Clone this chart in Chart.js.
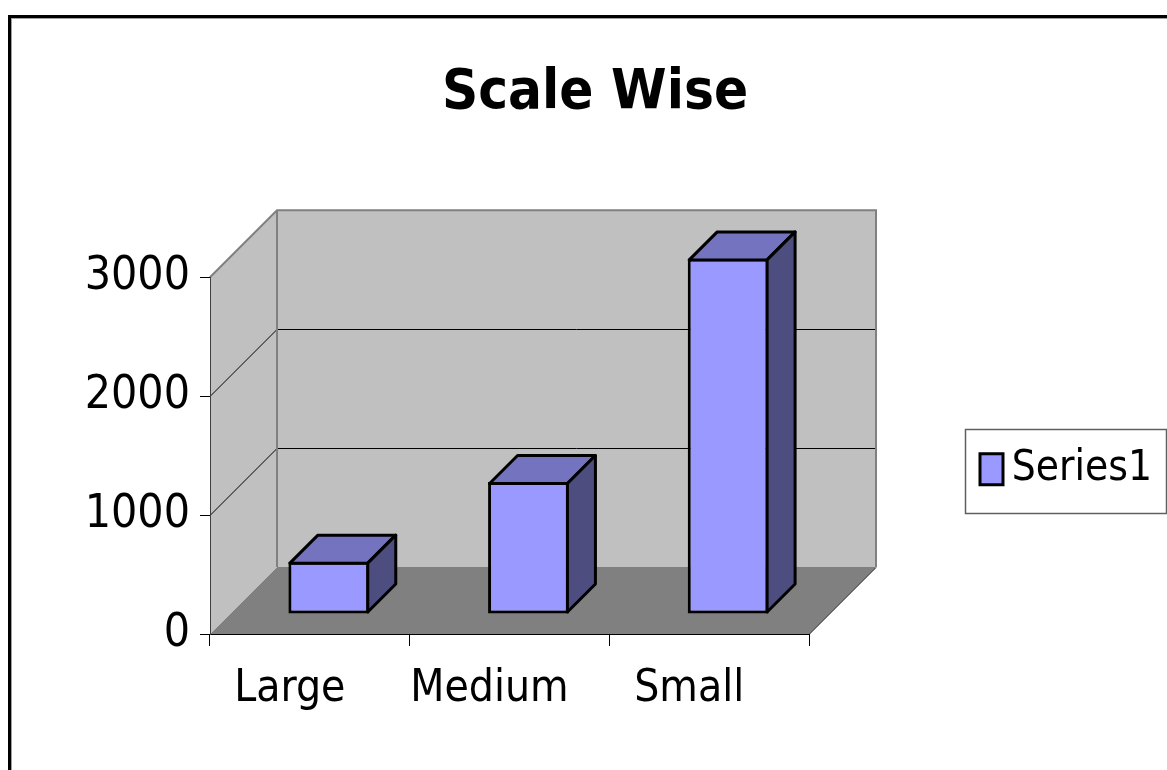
<!DOCTYPE html>
<html>
<head>
<meta charset="utf-8">
<title>Scale Wise</title>
<script src="https://cdn.jsdelivr.net/npm/chart.js@4.4.0/dist/chart.umd.min.js"></script>
<style>
  html, body { margin: 0; padding: 0; background: #fff; }
  #wrap { width: 1167px; height: 770px; }
</style>
</head>
<body>
<div id="wrap"><canvas id="myChart" width="1167" height="770"></canvas></div>
<script>
// chart data
const categories = ['Large', 'Medium', 'Small'];
const seriesValues = [440, 1110, 2990];
const seriesName = 'Series1';
const yTicks = [0, 1000, 2000, 3000];

const FONT = "'DejaVu Sans Condensed', 'Liberation Sans Narrow', 'Arial Narrow', sans-serif";
const WALL_DEPTH = 67;              // how far the back wall sits behind the axis plane
const BAR_SHIFT = { x: 19, y: -20 }; // bars stand in the middle of the floor
const BAR_DEPTH = 28;

function poly(ctx, pts) {
  ctx.beginPath();
  pts.forEach(([x, y], i) => (i ? ctx.lineTo(x, y) : ctx.moveTo(x, y)));
  ctx.closePath();
}

// draws the walls/floor and the top + side faces of the bars
const threeD = {
  id: 'threeD',
  beforeDraw(chart) {
    const { ctx, chartArea: a, scales: { y } } = chart;
    const D = WALL_DEPTH;
    const top = y.getPixelForValue(yTicks[yTicks.length - 1]);
    const bottom = y.getPixelForValue(0);
    ctx.save();

    // outer frame
    ctx.strokeStyle = '#000';
    ctx.lineWidth = 3;
    ctx.strokeRect(9.5, 16.5, 1400, 1000);
    ctx.strokeStyle = '#a0a0a0';
    ctx.lineWidth = 1;
    ctx.strokeRect(11.5, 18.5, 1400, 1000);

    // floor
    ctx.fillStyle = '#808080';
    poly(ctx, [[a.left, bottom], [a.right, bottom], [a.right + D, bottom - D], [a.left + D, bottom - D]]);
    ctx.fill();

    // back + side wall
    ctx.fillStyle = '#c0c0c0';
    ctx.fillRect(a.left + D, top - D, a.right - a.left, bottom - top);
    poly(ctx, [[a.left, bottom], [a.left + D, bottom - D], [a.left + D, top - D], [a.left, top]]);
    ctx.fill();

    // grid lines on the walls
    ctx.strokeStyle = '#000';
    ctx.lineWidth = 1;
    yTicks.slice(1, -1).forEach(v => {
      const py = Math.round(y.getPixelForValue(v)) + 0.5;
      ctx.beginPath();
      ctx.moveTo(a.left, py);
      ctx.lineTo(a.left + D, py - D);
      ctx.lineTo(a.right + D, py - D);
      ctx.stroke();
    });

    // wall edges
    ctx.strokeStyle = '#808080';
    ctx.lineWidth = 2;
    ctx.beginPath();
    ctx.moveTo(a.left, top);
    ctx.lineTo(a.left + D, top - D);
    ctx.lineTo(a.right + D, top - D);
    ctx.lineTo(a.right + D, bottom - D);
    ctx.moveTo(a.left + D, top - D);
    ctx.lineTo(a.left + D, bottom - D);
    ctx.stroke();

    ctx.strokeStyle = '#000';
    ctx.lineWidth = 1;
    ctx.beginPath();
    ctx.moveTo(a.right, bottom + 0.5);
    ctx.lineTo(a.right + D, bottom - D + 0.5);
    ctx.stroke();
    ctx.restore();
  },
  beforeDatasetsDraw(chart) {
    chart.ctx.save();
    chart.ctx.translate(BAR_SHIFT.x, BAR_SHIFT.y);
  },
  afterDatasetsDraw(chart) {
    const ctx = chart.ctx;
    const d = BAR_DEPTH;
    chart.getDatasetMeta(0).data.forEach(bar => {
      const { x, y, base, width } = bar.getProps(['x', 'y', 'base', 'width'], true);
      const h = 1.5;
      const L = x - width / 2 + h, R = x + width / 2 - h, T = y + h, B = base - h;
      ctx.lineWidth = 3;
      ctx.lineJoin = 'round';
      ctx.strokeStyle = '#000';
      ctx.fillStyle = '#7373bf';
      poly(ctx, [[L, T], [L + d, T - d], [R + d, T - d], [R, T]]);
      ctx.fill();
      ctx.stroke();
      ctx.fillStyle = '#4d4d80';
      poly(ctx, [[R, T], [R + d, T - d], [R + d, B - d], [R, B]]);
      ctx.fill();
      ctx.stroke();
    });
    ctx.restore();
  },
  afterDraw(chart) {
    // frame around the legend
    const lg = chart.legend;
    if (!lg || !lg.legendHitBoxes.length) return;
    const hb = lg.legendHitBoxes[0];
    const cy = hb.top + hb.height / 2;
    const ctx = chart.ctx;
    const x0 = Math.round(hb.left - 15) + 0.5;
    ctx.save();
    ctx.strokeStyle = '#606060';
    ctx.lineWidth = 1.5;
    ctx.strokeRect(x0, Math.round(cy - 40) + 0.5, Math.round(lg.right + 14 - x0), 84);
    ctx.restore();
  }
};

Chart.defaults.font.family = FONT;

const ctx = document.getElementById('myChart').getContext('2d');
new Chart(ctx, {
  type: 'bar',
  data: {
    labels: categories,
    datasets: [{
      label: seriesName,
      data: seriesValues,
      backgroundColor: '#9999ff',
      borderColor: '#000',
      borderWidth: 3,
      borderSkipped: false,
      barPercentage: 0.405,
      categoryPercentage: 1,
      clip: false
    }]
  },
  options: {
    responsive: false,
    animation: false,
    devicePixelRatio: 1,
    layout: { padding: { left: 38, right: 15, top: 0, bottom: 0 } },
    plugins: {
      title: {
        display: true,
        text: 'Scale Wise',
        color: '#000',
        font: { family: FONT, size: 56, weight: 'bold', lineHeight: 1.2 },
        padding: { top: 60, bottom: 150 }
      },
      legend: {
        position: 'right',
        align: 'start',
        fullSize: false,
        maxWidth: 343,
        labels: {
          usePointStyle: true,
          pointStyle: 'rect',
          pointStyleWidth: 23,
          boxHeight: 31,
          padding: 171,
          textAlign: 'right',
          color: '#000',
          font: { family: FONT, size: 42 }
        }
      },
      tooltip: { enabled: false }
    },
    scales: {
      x: {
        offset: true,
        grid: { drawOnChartArea: false, tickLength: 12, color: '#000', offset: true },
        border: { color: '#000', width: 1 },
        ticks: { color: '#000', font: { size: 44 }, padding: 17, labelOffset: -20, maxRotation: 0, autoSkip: false },
        afterFit(scale) { scale.height = 136; }
      },
      y: {
        min: 0,
        max: 3000,
        grid: { drawOnChartArea: false, tickLength: 10, color: '#000' },
        border: { color: '#404040', width: 1 },
        ticks: { stepSize: 1000, color: '#000', font: { size: 46 }, padding: 10, callback: v => String(v) },
        afterFit(scale) { scale.width = 172; }
      }
    }
  },
  plugins: [threeD]
});
</script>
</body>
</html>
